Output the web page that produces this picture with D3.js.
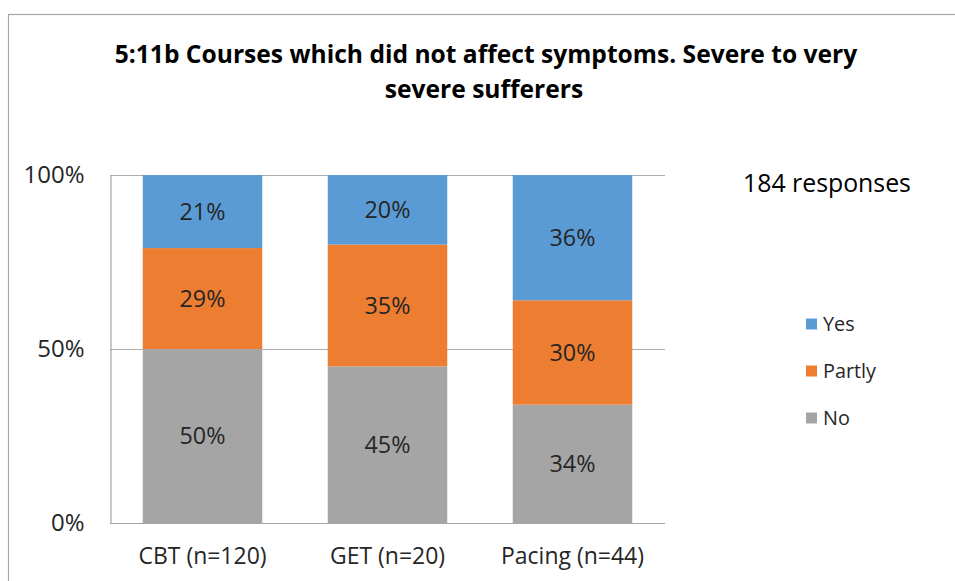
<!DOCTYPE html>
<html>
<head>
<meta charset="utf-8">
<script src="https://cdn.jsdelivr.net/npm/d3@7"></script>
<style>
  html, body { margin: 0; padding: 0; background: #fff; }
  svg { display: block; font-family: "Open Sans", Lato, sans-serif; }
</style>
</head>
<body>
<svg id="chart" width="955" height="581"></svg>
<script>
// Courses and their response shares (percent), stacked bottom to top: No, Partly, Yes
const categories = ["CBT (n=120)", "GET (n=20)", "Pacing (n=44)"];
const seriesNames = ["No", "Partly", "Yes"];
const noValues = [50, 45, 34];
const partlyValues = [29, 35, 30];
const yesValues = [21, 20, 36];
const yTicks = [0, 50, 100];
const titleLines = ["5:11b Courses which did not affect symptoms. Severe to very", "severe sufferers"];
const noteText = "184 responses";

const colors = { No: "#A5A5A5", Partly: "#ED7D31", Yes: "#5B9BD5" };
const FONT = "'Open Sans', Lato, sans-serif";

const svg = d3.select("#chart");

// Pick a font size so that a sample string spans the wanted width
function sizeFor(sample, width, weight) {
  const t = svg.append("text")
    .attr("font-family", FONT).attr("font-size", 20)
    .attr("font-weight", weight || "normal")
    .text(sample);
  const w = t.node().getComputedTextLength();
  t.remove();
  return 20 * width / w;
}

const titleSize = sizeFor(titleLines[0], 743, "bold");
const axisSize = sizeFor("Pacing (n=44)", 143, "normal");
const valueSize = sizeFor("21%", 46, "normal");
const tickSize = sizeFor("100%", 61, "normal");
const noteSize = sizeFor(noteText, 168, "normal");
const legendSize = sizeFor("Partly", 53, "normal");

// Outer chart frame
svg.append("rect")
  .attr("x", 8.5).attr("y", 14.5)
  .attr("width", 960).attr("height", 600)
  .attr("fill", "none").attr("stroke", "#a6a6a6").attr("stroke-width", 1.2);

// Title
const title = svg.append("text")
  .attr("text-anchor", "middle")
  .attr("font-weight", "bold")
  .attr("font-size", titleSize)
  .attr("fill", "#000");
title.append("tspan").attr("x", 486).attr("y", 63).text(titleLines[0]);
title.append("tspan").attr("x", 484).attr("y", 98).text(titleLines[1]);

// Plot area
const plot = { left: 110, right: 665, top: 175, bottom: 523 };

const x = d3.scaleBand()
  .domain(categories)
  .range([plot.left, plot.right])
  .paddingInner(0.354)
  .paddingOuter(0.177);

const y = d3.scaleLinear()
  .domain([0, 100])
  .range([plot.bottom, plot.top]);

// Horizontal gridlines
svg.append("g")
  .selectAll("line")
  .data(yTicks.filter(t => t > 0))
  .join("line")
  .attr("x1", plot.left).attr("x2", plot.right)
  .attr("y1", d => Math.round(y(d)) + 0.5).attr("y2", d => Math.round(y(d)) + 0.5)
  .attr("stroke", "#acacac").attr("stroke-width", 1.2);

// Stacked bars
const rows = categories.map((c, i) => ({ cat: c, No: noValues[i], Partly: partlyValues[i], Yes: yesValues[i] }));
const stack = d3.stack().keys(seriesNames)(rows);

const layers = svg.append("g")
  .selectAll("g")
  .data(stack)
  .join("g")
  .attr("fill", d => colors[d.key]);

layers.selectAll("rect")
  .data(d => d)
  .join("rect")
  .attr("x", d => x(d.data.cat))
  .attr("width", x.bandwidth())
  .attr("y", d => y(d[1]))
  .attr("height", d => y(d[0]) - y(d[1]));

// Value labels in each segment
layers.selectAll("text")
  .data(d => d.map(v => ({ v, key: d.key })))
  .join("text")
  .attr("x", d => x(d.v.data.cat) + x.bandwidth() / 2)
  .attr("y", d => (y(d.v[0]) + y(d.v[1])) / 2)
  .attr("dy", "0.36em")
  .attr("text-anchor", "middle")
  .attr("font-size", valueSize)
  .attr("fill", "#262626")
  .text(d => d.v.data[d.key] + "%");

// Axes
const yAxis = d3.axisLeft(y).tickValues(yTicks).tickSize(0).tickPadding(26).tickFormat(d => d + "%");
const gy = svg.append("g").attr("transform", `translate(${plot.left + 0.5},0)`).call(yAxis);
gy.select(".domain").attr("stroke", "#a6a6a6").attr("stroke-width", 1.2);
gy.selectAll("text").attr("font-size", tickSize).attr("fill", "#262626").attr("font-family", FONT);

const xAxis = d3.axisBottom(x).tickSize(0).tickPadding(24);
const gx = svg.append("g").attr("transform", `translate(0,${plot.bottom + 0.5})`).call(xAxis);
gx.select(".domain").attr("d", `M${plot.left},0H${plot.right}`).attr("stroke", "#a6a6a6").attr("stroke-width", 1.2);
gx.selectAll("text").attr("font-size", axisSize).attr("fill", "#262626").attr("font-family", FONT);

// Response count note
svg.append("text")
  .attr("x", 827).attr("y", 183).attr("dy", "0.36em")
  .attr("text-anchor", "middle")
  .attr("font-size", noteSize).attr("fill", "#000")
  .text(noteText);

// Legend (top to bottom: Yes, Partly, No)
const legendKeys = seriesNames.slice().reverse();
const legend = svg.append("g")
  .selectAll("g")
  .data(legendKeys)
  .join("g")
  .attr("transform", (d, i) => `translate(806,${324 + i * 47})`);
legend.append("rect")
  .attr("x", 0).attr("y", -5.5).attr("width", 11).attr("height", 11)
  .attr("fill", d => colors[d]);
legend.append("text")
  .attr("x", 17).attr("y", 0).attr("dy", "0.36em")
  .attr("font-size", legendSize).attr("fill", "#262626")
  .text(d => d);
</script>
</body>
</html>
